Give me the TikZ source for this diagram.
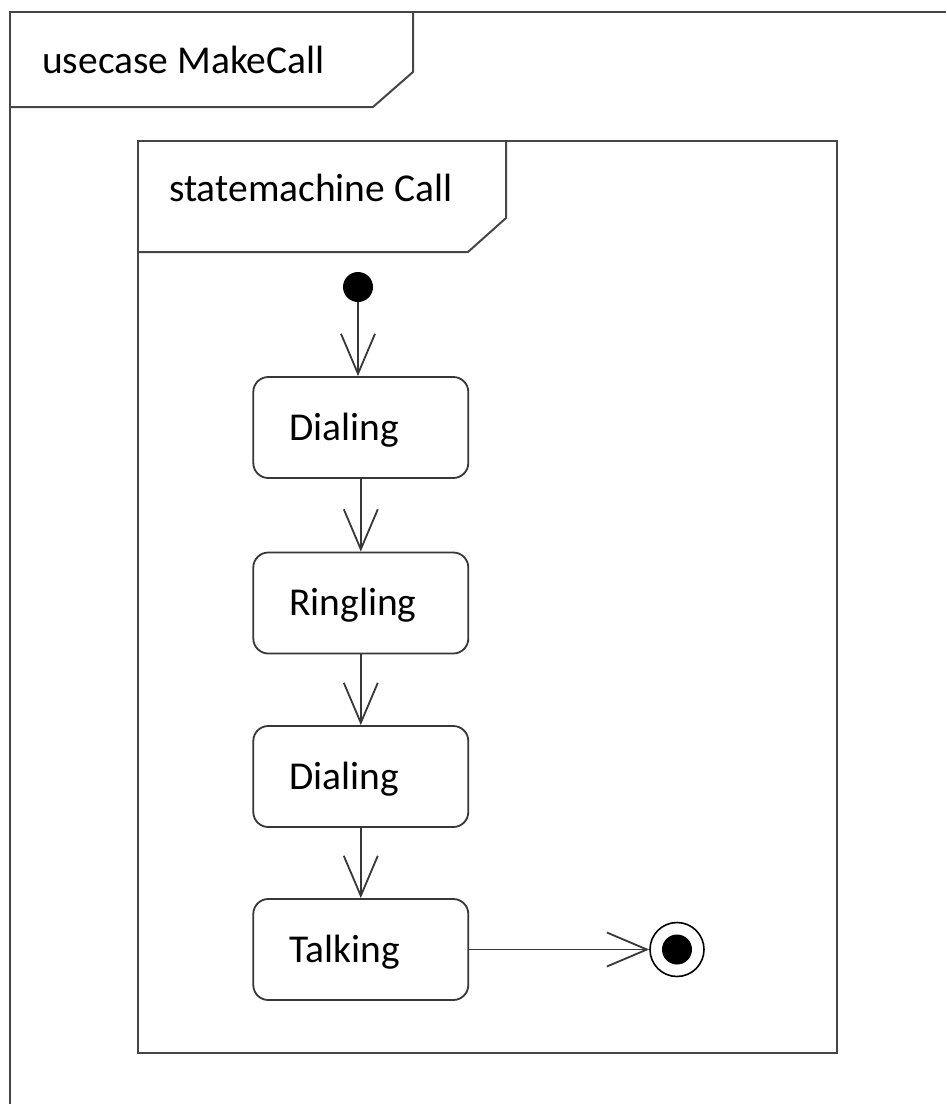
\documentclass[tikz,border=0pt]{standalone}
\usepackage{fontspec}
\setmainfont{Carlito}
\usetikzlibrary{arrows.meta}
\definecolor{frameline}{RGB}{70,70,70}
\definecolor{stateline}{RGB}{55,55,55}
\begin{document}
\begin{tikzpicture}[x=1pt,y=-1pt,
  every node/.style={font=\fontsize{39.5}{46}\selectfont},
  frame/.style={draw=frameline,line width=2pt,line join=miter},
  state/.style={draw=stateline,line width=1.8pt,rounded corners=15pt,
    minimum width=215pt,minimum height=101pt,text width=143pt,
    inner xsep=36pt,align=left,text height=25pt,text depth=0pt},
  trans/.style={draw=stateline,line width=1.8pt,
    -{Straight Barb[length=40pt,width=34pt,line width=1.8pt]}},
  tabtext/.style={anchor=base west,inner sep=0pt}]
\useasboundingbox (0,0) rectangle (946,1104);
\fill[white] (0,0) rectangle (946,1104);

% outer use case frame with its name tab
\draw[frame] (10,1104) -- (10,12) -- (946,12);
\draw[frame] (413,12) -- (413,72) -- (373,107) -- (10,107);
\node[tabtext] (ucname) at (42,73) {usecase MakeCall};

% inner state machine frame with its name tab
\draw[frame] (138,141) rectangle (837,1053);
\draw[frame] (506,141) -- (506,218) -- (468,252) -- (138,252);
\node[tabtext] (smname) at (169,201) {statemachine Call};

% states
\node[state] (dial1) at (360.8,427.5) {Dialing};
\node[state] (ring)  at (360.8,603)   {Ringling};
\node[state] (dial2) at (360.8,776.5) {Dialing};
\node[state] (talk)  at (360.8,949.5) {Talking};

% pseudo states
\node[circle,fill=black,minimum size=30pt,inner sep=0pt] (init) at (358,287) {};
\node[circle,draw=black,line width=1.6pt,fill=white,minimum size=54pt,inner sep=0pt] (final) at (677,949.5) {};
\node[circle,fill=black,minimum size=30pt,inner sep=0pt] (finaldot) at (final.center) {};

% transitions
\draw[trans] (init) -- (init |- dial1.north);
\draw[trans] (dial1) -- (ring);
\draw[trans] (ring) -- (dial2);
\draw[trans] (dial2) -- (talk);
\draw[trans] (talk.east) -- (final.west);
\end{tikzpicture}
\end{document}
